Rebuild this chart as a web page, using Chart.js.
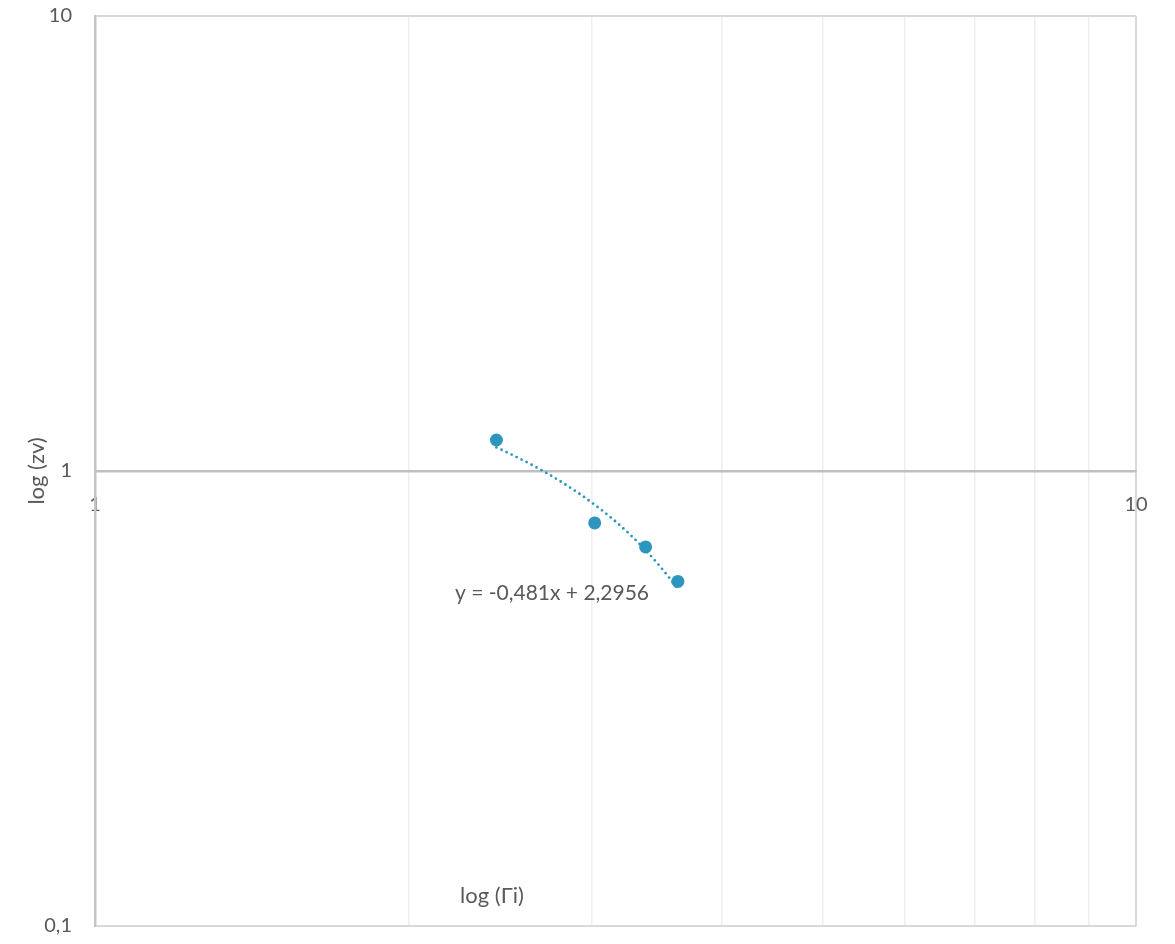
<!DOCTYPE html>
<html>
<head>
<meta charset="utf-8">
<script src="https://cdn.jsdelivr.net/npm/chart.js@4/dist/chart.umd.min.js"></script>
<style>
  html, body { margin: 0; padding: 0; background: #ffffff; }
  #wrap { width: 1175px; height: 944px; position: relative; }
</style>
</head>
<body>
<div id="wrap"><canvas id="c"></canvas></div>
<script>
// Measured points: Γi against zv
const gammaValues = [2.43, 3.02, 3.38, 3.63];
const zvValues = [1.17, 0.769, 0.681, 0.572];

// Linear trendline fitted to the points
const trendSlope = -0.481;
const trendIntercept = 2.2956;
const trendLabel = 'y = -0,481x + 2,2956';

// Axis ticks
const xTicks = [1, 10];
const yTicks = [0.1, 1, 10];
const xGridValues = [1, 2, 3, 4, 5, 6, 7, 8, 9, 10];

const xTitle = 'log (Γi)';
const yTitle = 'log (zv)';

const FONT = 'Lato, "Open Sans", sans-serif';
const TEXT = '#595959';
const BLUE = '#2e96be';

const fmt = v => String(v).replace('.', ',');

// Keep tick labels from shrinking the plot area
const noEdgePadding = s => {
  s.paddingTop = 0; s.paddingBottom = 0; s.paddingLeft = 0; s.paddingRight = 0;
};

// Trendline (curved on log axes) plus the in-plot labels
const overlay = {
  id: 'overlay',
  afterDatasetsDraw(chart) {
    const { ctx, scales: { x, y } } = chart;
    const x0 = Math.min(...gammaValues), x1 = Math.max(...gammaValues);
    ctx.save();
    ctx.beginPath();
    const steps = 60;
    for (let i = 0; i <= steps; i++) {
      const xv = x0 + (x1 - x0) * i / steps;
      const yv = trendSlope * xv + trendIntercept;
      const px = x.getPixelForValue(xv), py = y.getPixelForValue(yv);
      if (i === 0) ctx.moveTo(px, py); else ctx.lineTo(px, py);
    }
    ctx.strokeStyle = BLUE;
    ctx.lineWidth = 2.8;
    ctx.lineCap = 'round';
    ctx.setLineDash([0, 5.6]);
    ctx.stroke();
    ctx.setLineDash([]);

    ctx.fillStyle = TEXT;
    ctx.font = '21px ' + FONT;
    ctx.textAlign = 'center';
    ctx.textBaseline = 'middle';
    ctx.fillText(trendLabel, 552, 593);
    ctx.font = '22px ' + FONT;
    ctx.fillText(xTitle, 492, 896);
    ctx.restore();
  }
};

new Chart(document.getElementById('c'), {
  type: 'scatter',
  data: {
    datasets: [{
      data: gammaValues.map((g, i) => ({ x: g, y: zvValues[i] })),
      backgroundColor: BLUE,
      borderColor: BLUE,
      pointRadius: 6.5,
      pointHoverRadius: 6.5,
      borderWidth: 0
    }]
  },
  options: {
    responsive: true,
    maintainAspectRatio: false,
    animation: false,
    layout: { padding: { top: 16, right: 39, bottom: 18, left: 0 } },
    plugins: { legend: { display: false }, tooltip: { enabled: false } },
    scales: {
      x: {
        type: 'logarithmic',
        min: 1, max: 10,
        position: { y: 1 },
        afterBuildTicks: s => { s.ticks = xGridValues.map(v => ({ value: v })); },
        afterFit: noEdgePadding,
        ticks: {
          color: TEXT,
          font: { family: FONT, size: 20 },
          padding: 22,
          maxRotation: 0,
          autoSkip: false,
          callback: v => xTicks.includes(v) ? fmt(v) : ''
        },
        grid: {
          drawTicks: false,
          color: ctx => (ctx.tick && ctx.tick.value === 10) ? '#d9d9d9' : '#efefef',
          lineWidth: ctx => (ctx.tick && ctx.tick.value === 10) ? 2 : 1.5
        },
        border: { color: '#bfbfbf', width: 2.5 }
      },
      y: {
        type: 'logarithmic',
        min: 0.1, max: 10,
        afterBuildTicks: s => { s.ticks = yTicks.map(v => ({ value: v })); },
        afterFit: s => { s.width = 95; noEdgePadding(s); },
        ticks: {
          color: TEXT,
          font: { family: FONT, size: 20 },
          padding: 23,
          autoSkip: false,
          callback: v => fmt(v)
        },
        grid: {
          drawTicks: false,
          color: ctx => (ctx.tick && ctx.tick.value === 1) ? 'rgba(0,0,0,0)' : '#d9d9d9',
          lineWidth: 2
        },
        border: { color: '#c4c4c4', width: 2.5 },
        title: {
          display: true,
          text: yTitle,
          color: TEXT,
          font: { family: FONT, size: 22 },
          padding: { top: 24, bottom: 0 }
        }
      }
    }
  },
  plugins: [overlay]
});
</script>
</body>
</html>
